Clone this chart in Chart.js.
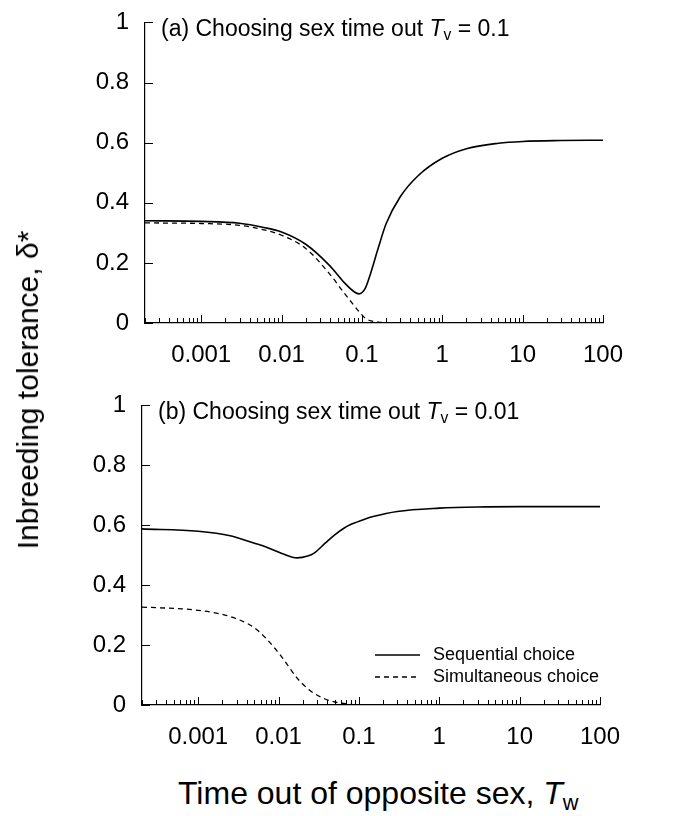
<!DOCTYPE html>
<html>
<head>
<meta charset="utf-8">
<script src="https://cdn.jsdelivr.net/npm/chart.js@4.4.1/dist/chart.umd.min.js"></script>
<style>
  body { margin: 0; background: #fff; }
  #wrap { position: relative; width: 681px; height: 816px; overflow: hidden;
          font-family: "Liberation Sans", Arial, sans-serif; color: #000; }
  canvas { position: absolute; left: 0; }
  .ptitle { position: absolute; font-size: 23px; line-height: 1; white-space: nowrap; }
  .ytitle { position: absolute; font-size: 30px; line-height: 1; white-space: nowrap;
            transform: translate(-50%, -50%) rotate(-90deg); }
  .xtitle { position: absolute; font-size: 32px; line-height: 1; white-space: nowrap; }
  sub { font-size: 0.68em; vertical-align: -0.28em; line-height: 0; }
</style>
</head>
<body>
<div id="wrap">
  <canvas id="chartA" width="681" height="380" style="top:0px"></canvas>
  <canvas id="chartB" width="681" height="380" style="top:383px"></canvas>
  <div class="ptitle" style="left:161px; top:17px">(a) Choosing sex time out <i>T</i><sub>v</sub> = 0.1</div>
  <div class="ptitle" style="left:158px; top:400px">(b) Choosing sex time out <i>T</i><sub>v</sub> = 0.01</div>
  <div class="ytitle" style="left:28px; top:390px">Inbreeding tolerance, δ*</div>
  <div class="xtitle" style="left:178px; top:777px">Time out of opposite sex, <i>T</i><sub>w</sub></div>
</div>
<script>
// tick labels
const xTickValues = [0.001, 0.01, 0.1, 1, 10, 100];
const xTickLabels = ['0.001', '0.01', '0.1', '1', '10', '100'];
const yTickLabels = ['0', '0.2', '0.4', '0.6', '0.8', '1'];
const seriesNames = ['Sequential choice', 'Simultaneous choice'];

// panel (a): Tv = 0.1
const xA = [0.0002, 0.001, 0.003, 0.006, 0.01, 0.02, 0.04, 0.06, 0.08, 0.092, 0.11, 0.13, 0.16, 0.2, 0.3, 0.5, 1, 2, 5, 10, 30, 100];
const seqA = [0.340, 0.338, 0.332, 0.318, 0.303, 0.262, 0.190, 0.135, 0.104, 0.097, 0.115, 0.17, 0.25, 0.33, 0.42, 0.49, 0.548, 0.580, 0.598, 0.604, 0.607, 0.608];
const simA = [0.333, 0.331, 0.325, 0.310, 0.292, 0.248, 0.162, 0.100, 0.058, 0.038, 0.016, 0.007, 0.003, 0.001, 0, 0, 0, 0, 0, 0, 0, 0];

// panel (b): Tv = 0.01
const xB = [0.0002, 0.001, 0.0025, 0.005, 0.007, 0.011, 0.017, 0.023, 0.028, 0.038, 0.05, 0.065, 0.08, 0.12, 0.15, 0.3, 1, 3, 10, 100];
const seqB = [0.588, 0.580, 0.565, 0.540, 0.527, 0.506, 0.491, 0.497, 0.508, 0.540, 0.568, 0.590, 0.603, 0.621, 0.629, 0.646, 0.657, 0.661, 0.662, 0.662];
const simB = [0.327, 0.316, 0.295, 0.258, 0.222, 0.160, 0.090, 0.055, 0.038, 0.020, 0.010, 0.005, 0.002, 0, 0, 0, 0, 0, 0, 0];

Chart.defaults.font.family = '"Liberation Sans", Arial, sans-serif';
Chart.defaults.color = '#000';

// ticks drawn pointing into the plot, long for majors, short for minors
const inwardTicks = {
  id: 'inwardTicks',
  afterDatasetsDraw(chart) {
    const ctx = chart.ctx, xs = chart.scales.x, ys = chart.scales.y, a = chart.chartArea;
    ctx.save();
    ctx.strokeStyle = '#000';
    ctx.lineWidth = 1;
    ctx.beginPath();
    xs.ticks.forEach(t => {
      const px = Math.round(xs.getPixelForValue(t.value)) + 0.5;
      const len = xTickValues.includes(t.value) ? 8 : 5;
      ctx.moveTo(px, a.bottom);
      ctx.lineTo(px, a.bottom - len);
    });
    ys.ticks.forEach(t => {
      const py = Math.round(ys.getPixelForValue(t.value)) + 0.5;
      const major = Math.abs(t.value * 5 - Math.round(t.value * 5)) < 1e-6;
      ctx.moveTo(a.left, py);
      ctx.lineTo(a.left + (major ? 8 : 5), py);
    });
    ctx.stroke();
    ctx.restore();
  }
};

// small legend in the lower right of panel (b)
const lineLegend = {
  id: 'lineLegend',
  afterDraw(chart, args, opts) {
    if (!opts.show) return;
    const ctx = chart.ctx;
    chart.data.datasets.forEach((ds, i) => {
      const y = opts.top + i * opts.rowGap;
      ctx.save();
      ctx.strokeStyle = ds.borderColor;
      ctx.lineWidth = ds.borderWidth;
      ctx.setLineDash(ds.borderDash || []);
      ctx.beginPath();
      ctx.moveTo(opts.left, y);
      ctx.lineTo(opts.left + opts.lineLen, y);
      ctx.stroke();
      ctx.setLineDash([]);
      ctx.fillStyle = '#000';
      ctx.font = '18px "Liberation Sans", Arial, sans-serif';
      ctx.textBaseline = 'middle';
      ctx.fillText(ds.label, opts.left + opts.textGap, y);
      ctx.restore();
    });
  }
};

function minorTicks(min, max) {
  const out = [];
  [0.0001, 0.001, 0.01, 0.1, 1, 10].forEach(d => {
    for (let m = 1; m <= 9; m++) {
      const v = m === 1 ? d : m * d;
      if (v >= min * 0.999 && v <= max * 1.001) out.push({ value: v });
    }
  });
  out.push({ value: 100 });
  return out;
}

function makeChart(id, xs, seq, sim, padRight, yW, xH, showLegend) {
  const toPts = ys => xs.map((x, i) => ({ x: x, y: ys[i] }));
  return new Chart(document.getElementById(id), {
    type: 'line',
    data: {
      datasets: [
        { label: seriesNames[0], data: toPts(seq), borderColor: '#000', borderWidth: 1.6,
          pointRadius: 0, cubicInterpolationMode: 'monotone', fill: false },
        { label: seriesNames[1], data: toPts(sim), borderColor: '#000', borderWidth: 1.3,
          borderDash: [5, 4], pointRadius: 0, cubicInterpolationMode: 'monotone', fill: false }
      ]
    },
    options: {
      responsive: false,
      animation: false,
      devicePixelRatio: 1,
      layout: { padding: { top: 18, right: padRight, left: 0, bottom: 0 } },
      plugins: {
        legend: { display: false },
        tooltip: { enabled: false },
        lineLegend: { show: showLegend, left: 375, top: 272, rowGap: 22, lineLen: 45, textGap: 58 }
      },
      scales: {
        x: {
          type: 'logarithmic',
          min: 0.0002,
          max: 100,
          grid: { display: false },
          border: { display: true, color: '#000', width: 1.2 },
          afterBuildTicks: s => { s.ticks = minorTicks(0.0002, 100); },
          afterFit: s => { s.height = xH; },
          ticks: {
            autoSkip: false,
            maxRotation: 0,
            padding: 10,
            font: { size: 24 },
            callback: v => {
              const k = xTickValues.indexOf(v);
              return k >= 0 ? xTickLabels[k] : '';
            }
          }
        },
        y: {
          min: 0,
          max: 1,
          grid: { display: false },
          border: { display: true, color: '#000', width: 1.2 },
          afterFit: s => { s.width = yW; },
          ticks: {
            stepSize: 0.1,
            padding: 8,
            font: { size: 24 },
            callback: v => {
              const k = Math.round(v * 5);
              return Math.abs(v * 5 - k) < 1e-6 ? yTickLabels[k] : '';
            }
          }
        }
      }
    },
    plugins: [inwardTicks, lineLegend]
  });
}

makeChart('chartA', xA, seqA, simA, 78, 145, 57, false);
makeChart('chartB', xB, seqB, simB, 81, 142, 58, true);
</script>
</body>
</html>
